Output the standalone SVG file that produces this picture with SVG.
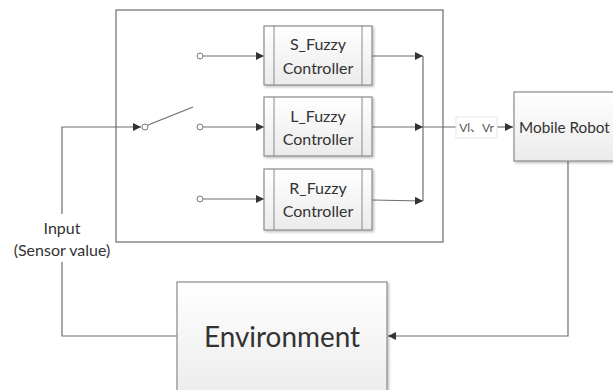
<svg xmlns="http://www.w3.org/2000/svg" width="613" height="390" viewBox="0 0 613 390">
  <defs>
    <linearGradient id="boxFill" x1="0" y1="0" x2="0" y2="1">
      <stop offset="0" stop-color="#ffffff"/>
      <stop offset="1" stop-color="#ebebeb"/>
    </linearGradient>
    <filter id="shadow" x="-10%" y="-10%" width="130%" height="130%">
      <feDropShadow dx="1.5" dy="1.5" stdDeviation="1" flood-color="#000" flood-opacity="0.25"/>
    </filter>
    <marker id="arrow" viewBox="0 0 10 10" refX="10" refY="5" markerWidth="8" markerHeight="8" markerUnits="userSpaceOnUse" orient="auto">
      <path d="M0,0 L10,5 L0,10 z" fill="#333"/>
    </marker>
  </defs>
  <style>
    .box { fill: url(#boxFill); stroke: #8a8a8a; stroke-width: 1.2; filter: url(#shadow); }
    .bar { stroke: #8a8a8a; stroke-width: 1; }
    .wire { fill: none; stroke: #6e6e6e; stroke-width: 1.2; }
    .pin { fill: #fff; stroke: #777; stroke-width: 1; }
    .lbl { font-family: Lato, "Liberation Sans", sans-serif; fill: #333; }
  </style>

  <rect width="613" height="390" fill="#ffffff"/>

  <!-- controller frame -->
  <g id="frame">
    <rect x="116" y="10" width="327" height="232" fill="#fff" stroke="#777" stroke-width="1.3"/>
  </g>

  <g id="connectors">
    <!-- sensor feedback into the switch -->
    <polyline class="wire" points="177,336 62,336 62,127 141,127" marker-end="url(#arrow)"/>
    <!-- switch blade -->
    <line class="wire" x1="148" y1="125" x2="193" y2="107"/>
    <!-- contacts to controllers -->
    <line class="wire" x1="203" y1="56" x2="264" y2="56" marker-end="url(#arrow)"/>
    <line class="wire" x1="203" y1="127" x2="264" y2="127" marker-end="url(#arrow)"/>
    <line class="wire" x1="203" y1="199" x2="264" y2="199" marker-end="url(#arrow)"/>
    <!-- controller outputs -->
    <line class="wire" x1="372" y1="56" x2="423" y2="56" marker-end="url(#arrow)"/>
    <line class="wire" x1="372" y1="127" x2="423" y2="127" marker-end="url(#arrow)"/>
    <line class="wire" x1="372" y1="200" x2="423" y2="201" marker-end="url(#arrow)"/>
    <line class="wire" x1="423" y1="56" x2="423" y2="201"/>
    <!-- combined output to robot -->
    <line class="wire" x1="423" y1="127" x2="456" y2="127"/>
    <line class="wire" x1="497" y1="127" x2="513" y2="127" marker-end="url(#arrow)"/>
    <!-- robot back to environment -->
    <polyline class="wire" points="568,161 568,336 388,336" marker-end="url(#arrow)"/>
  </g>

  <g id="switch">
    <circle class="pin" cx="145" cy="127" r="3"/>
    <circle class="pin" cx="200" cy="56" r="3"/>
    <circle class="pin" cx="200" cy="127" r="3"/>
    <circle class="pin" cx="200" cy="199" r="3"/>
  </g>

  <g id="s-fuzzy">
    <rect class="box" x="264" y="26" width="108" height="59"/>
    <line class="bar" x1="274" y1="26" x2="274" y2="85"/>
    <line class="bar" x1="362" y1="26" x2="362" y2="85"/>
    <text class="lbl" x="318" y="50" font-size="16" text-anchor="middle">S_Fuzzy</text>
    <text class="lbl" x="318" y="74" font-size="16" text-anchor="middle">Controller</text>
  </g>

  <g id="l-fuzzy">
    <rect class="box" x="264" y="97" width="108" height="59"/>
    <line class="bar" x1="274" y1="97" x2="274" y2="156"/>
    <line class="bar" x1="362" y1="97" x2="362" y2="156"/>
    <text class="lbl" x="318" y="122" font-size="16" text-anchor="middle">L_Fuzzy</text>
    <text class="lbl" x="318" y="145" font-size="16" text-anchor="middle">Controller</text>
  </g>

  <g id="r-fuzzy">
    <rect class="box" x="264" y="169" width="108" height="61"/>
    <line class="bar" x1="274" y1="169" x2="274" y2="230"/>
    <line class="bar" x1="362" y1="169" x2="362" y2="230"/>
    <text class="lbl" x="318" y="194" font-size="16" text-anchor="middle">R_Fuzzy</text>
    <text class="lbl" x="318" y="217" font-size="16" text-anchor="middle">Controller</text>
  </g>

  <g id="velocity-label">
    <rect x="456" y="117" width="41" height="21" fill="#fff" stroke="#e6e6e6" stroke-width="1"/>
    <text x="476.5" y="132" font-size="12" text-anchor="middle" fill="#555" font-family="Lato, 'Liberation Sans', 'Noto Sans CJK SC', sans-serif">Vl、Vr</text>
  </g>

  <g id="mobile-robot">
    <rect class="box" x="514" y="92" width="110" height="69"/>
    <text class="lbl" x="519" y="133" font-size="15.3">Mobile Robot</text>
  </g>

  <g id="input-label">
    <rect x="9" y="214" width="106" height="48" fill="#fff"/>
    <text class="lbl" x="62" y="234" font-size="16" text-anchor="middle">Input</text>
    <text class="lbl" x="62" y="256" font-size="16" text-anchor="middle">(Sensor value)</text>
  </g>

  <g id="environment">
    <rect class="box" x="177" y="282" width="210" height="120"/>
    <text class="lbl" x="282" y="347" font-size="28" text-anchor="middle" textLength="156" lengthAdjust="spacingAndGlyphs">Environment</text>
  </g>
</svg>
